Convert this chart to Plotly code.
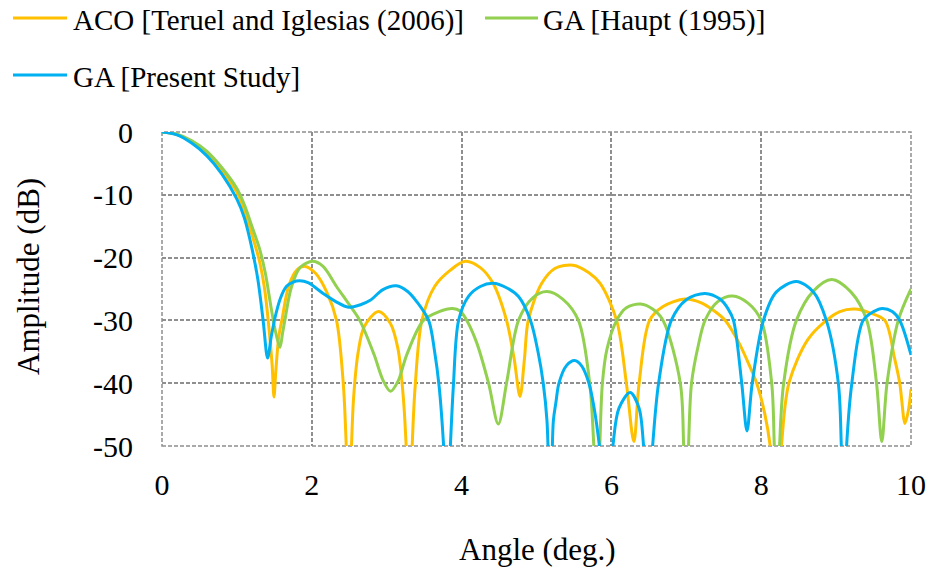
import plotly.graph_objects as go

# ---------------- data ----------------
aco_x = [0, 0.2, 0.4, 0.6, 0.8, 1.0, 1.1, 1.2, 1.3, 1.37, 1.43, 1.47, 1.495, 1.52, 1.56, 1.60, 1.69, 1.8, 1.91,
         2.05, 2.2, 2.33, 2.42, 2.46, 2.5, 2.53, 2.56, 2.62, 2.7, 2.89, 3.05, 3.15, 3.22, 3.26, 3.3, 3.34, 3.38,
         3.47, 3.64, 3.85, 4.05, 4.25, 4.42, 4.6, 4.7, 4.78, 4.84, 4.89, 5.07, 5.25, 5.49, 5.7, 5.85, 6.07, 6.2,
         6.30, 6.37, 6.51, 6.69, 6.98, 7.2, 7.35, 7.52, 7.7, 7.85, 7.94, 8.05, 8.12, 8.2, 8.27, 8.37, 8.62, 8.87,
         9.05, 9.25, 9.45, 9.65, 9.78, 9.85, 9.92, 9.97, 10.0]
aco_y = [0, -0.4, -1.6, -3.4, -6.2, -9.6, -12.5, -16.3, -20.5, -25, -31.5, -37, -42.2, -38, -32.5, -30, -24.6, -22.0, -21.4,
         -22.5, -25.5, -30, -40, -50, -64, -50, -42, -35, -31, -28.6, -30.5, -34.5, -42, -50, -64, -50, -40.5,
         -30, -24.6, -22, -20.6, -21.6, -24.1, -30, -36, -42.1, -36, -30, -24.1, -21.7, -21.2, -22.4, -24.1, -30, -40,
         -49.3, -40, -30, -27.8, -26.6, -27.2, -28.3, -30, -33.5, -37.4, -40, -45, -50, -62, -50, -40, -33.1, -30,
         -28.6, -28.2, -28.8, -30, -36, -40, -46.4, -44, -41]

haupt_x = [0, 0.2, 0.4, 0.6, 0.8, 1.0, 1.1, 1.2, 1.3, 1.38, 1.45, 1.51, 1.575, 1.61, 1.64, 1.73, 1.85, 2.01,
           2.15, 2.33, 2.5, 2.64, 2.83, 2.95, 3.05, 3.15, 3.27, 3.49, 3.7, 3.88, 3.98, 4.07, 4.2, 4.36, 4.49,
           4.6, 4.76, 4.95, 5.14, 5.35, 5.56, 5.71, 5.765, 5.805, 5.845, 5.88, 5.94, 6.07, 6.2, 6.39, 6.55, 6.69,
           6.92, 6.965, 7.0, 7.03, 7.07, 7.16, 7.25, 7.42, 7.62, 7.82, 8.0, 8.14, 8.175, 8.21, 8.245, 8.3, 8.47,
           8.7, 8.94, 9.2, 9.41, 9.54, 9.61, 9.68, 9.83, 10.0]
haupt_y = [0, -0.35, -1.4, -3.1, -5.7, -9, -11.6, -15, -18.5, -22.5, -27.5, -31.5, -34.3, -32, -30, -24.6, -21.5, -20.6,
           -21.4, -24.6, -27.5, -30, -35.4, -39.5, -41.3, -39.7, -35.4, -30, -28.6, -28.1, -28.5, -30, -33.5, -40, -46.5,
           -40, -30, -26.4, -25.4, -26.6, -30, -40, -50, -64, -50, -40, -34.6, -30, -28, -27.4, -28.2, -30,
           -40, -50, -62, -50, -40, -34, -30, -27, -26.1, -27.2, -30, -40, -50, -62, -50, -40, -30,
           -25.3, -23.5, -25.5, -30, -40, -49.3, -40, -30, -25]

present_x = [0, 0.2, 0.4, 0.6, 0.8, 1.0, 1.1, 1.2, 1.28, 1.35, 1.41, 1.46, 1.51, 1.58, 1.66, 1.75, 1.84, 1.95,
             2.15, 2.32, 2.49, 2.65, 2.78, 2.95, 3.13, 3.28, 3.4, 3.56, 3.64, 3.70, 3.76, 3.805, 3.85, 3.89, 3.96,
             4.09, 4.25, 4.42, 4.6, 4.76, 4.92, 5.02, 5.09, 5.14, 5.185, 5.225, 5.26, 5.3, 5.4, 5.51, 5.6, 5.7,
             5.77, 5.84, 5.935, 6.02, 6.1, 6.25, 6.37, 6.43, 6.49, 6.55, 6.63, 6.8, 7.0, 7.25, 7.45, 7.56, 7.63,
             7.74, 7.81, 7.88, 8.03, 8.2, 8.47, 8.7, 8.87, 9.03, 9.07, 9.105, 9.14, 9.21, 9.36, 9.5, 9.62, 9.75,
             9.85, 10.0]
present_y = [0, -0.45, -1.8, -3.8, -6.7, -10.7, -13.7, -18.5, -23.5, -30, -36, -32.5, -29.5, -26.5, -24.6, -23.9, -23.7, -24.0,
             -25.7, -27.0, -27.9, -27.5, -26.8, -25.1, -24.5, -25.4, -27.0, -30, -35, -40.5, -50, -62, -50, -40.5, -30,
             -26.2, -24.6, -24.1, -24.8, -26.2, -30, -35, -40, -46, -62, -46, -43, -40, -37.2, -36.4, -37.2, -40,
             -44, -50, -62, -50, -44, -41.5, -44, -50, -60, -50, -40, -30, -26.7, -25.7, -26.6, -28.2, -30,
             -40, -47.6, -40, -30, -25.5, -23.8, -25.5, -30, -40, -50, -62, -50, -40, -30, -28.6, -28.1, -28.6,
             -30, -35.5]

series_names = ["ACO [Teruel and Iglesias (2006)]", "GA [Haupt (1995)]", "GA [Present Study]"]
series_colors = ["#FFC000", "#92D050", "#00B0F0"]
x_ticks = [0, 2, 4, 6, 8, 10]
y_ticks = [0, -10, -20, -30, -40, -50]

# ---------------- figure ----------------
W, H = 931, 570
L, R, T, B = 162, 20, 132, 124
PW, PH = W - L - R, H - T - B
FONT = "Liberation Serif"
GRID_COLOR = "#8f8f8f"
GRID_DASH = "4px,2px"


def px_to_paper_x(px):
    return (px - L) / PW


def px_to_paper_y(py):
    return (H - B - py) / PH


fig = go.Figure()
for xs, ys, name, col in zip([aco_x, haupt_x, present_x], [aco_y, haupt_y, present_y], series_names, series_colors):
    fig.add_trace(go.Scatter(x=xs, y=ys, mode="lines", name=name, showlegend=False,
                             line=dict(color=col, width=3, shape="spline", smoothing=0.9)))

grid = dict(showgrid=True, gridcolor=GRID_COLOR, gridwidth=1.5, griddash=GRID_DASH,
            zeroline=False, showline=False, ticks="outside", tickcolor="rgba(0,0,0,0)",
            automargin=False, tickfont=dict(family=FONT, size=30, color="black"))

fig.update_layout(
    width=W, height=H,
    margin=dict(l=L, r=R, t=T, b=B, pad=0),
    paper_bgcolor="white", plot_bgcolor="white",
    font=dict(family=FONT, size=29, color="black"),
    xaxis=dict(range=[0, 10], tickvals=x_ticks, ticktext=[str(v) for v in x_ticks], ticklen=12, **grid),
    yaxis=dict(range=[-50, 0], tickvals=y_ticks, ticktext=[str(v) for v in y_ticks], ticklen=22, **grid),
)

# dashed frame around the plot area (grid lines at the range ends)
fig.add_shape(type="rect", xref="paper", yref="paper", x0=0, x1=1, y0=0, y1=1,
              line=dict(color=GRID_COLOR, width=1.5, dash=GRID_DASH), layer="below")

# manual legend (long line samples like the reference)
legend_rows = [(13, 67, 71, 18), (485, 538, 541, 18), (13, 67, 71, 75)]
for (x0, x1, xt, yy), name, col in zip(legend_rows, series_names, series_colors):
    fig.add_shape(type="line", xref="paper", yref="paper",
                  x0=px_to_paper_x(x0), x1=px_to_paper_x(x1),
                  y0=px_to_paper_y(yy), y1=px_to_paper_y(yy),
                  line=dict(color=col, width=3))
    fig.add_annotation(xref="paper", yref="paper", x=px_to_paper_x(xt), y=px_to_paper_y(yy + 2),
                       text=name, showarrow=False, xanchor="left", yanchor="middle",
                       font=dict(family=FONT, size=29, color="black"))

# axis titles
fig.add_annotation(xref="paper", yref="paper", x=px_to_paper_x(537), y=px_to_paper_y(549),
                   text="Angle (deg.)", showarrow=False, xanchor="center", yanchor="middle",
                   font=dict(family=FONT, size=31, color="black"))
fig.add_annotation(xref="paper", yref="paper", x=px_to_paper_x(28), y=px_to_paper_y(277),
                   text="Amplitude (dB)", showarrow=False, textangle=-90, xanchor="center", yanchor="middle",
                   font=dict(family=FONT, size=31, color="black"))

fig.write_html("out.html")
